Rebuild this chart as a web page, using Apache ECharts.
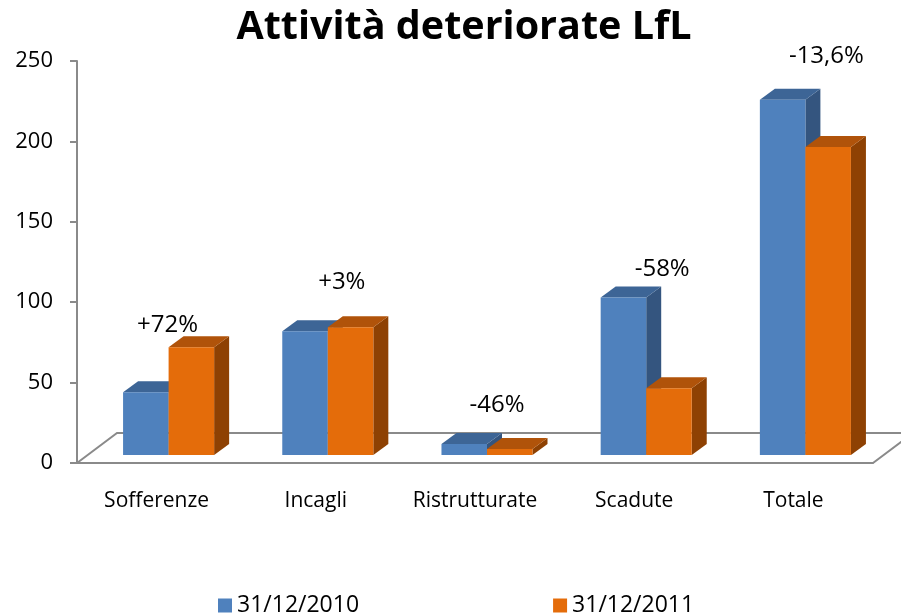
<!DOCTYPE html>
<html>
<head>
<meta charset="utf-8">
<script src="https://cdn.jsdelivr.net/npm/echarts@6/dist/echarts.min.js"></script>
<style>
  html, body { margin: 0; padding: 0; background: #fff; }
  #chart { width: 901px; height: 616px; }
</style>
</head>
<body>
<div id="chart"></div>
<script>
// dati
const categories = ['Sofferenze', 'Incagli', 'Ristrutturate', 'Scadute', 'Totale'];
const values2010 = [39, 77, 6.8, 98, 221];
const values2011 = [67, 79.5, 3.7, 41.5, 191.5];
const changeLabels = ['+72%', '+3%', '-46%', '-58%', '-13,6%'];
const seriesNames = ['31/12/2010', '31/12/2011'];

// layout / stile
const FONT = '"Open Sans", Lato, sans-serif';
const AXIS_COLOR = '#8a8a8a';
const BAR_RATIO = 0.286;        // larghezza barra / categoria
const SHIFT = [12, -8];         // barre spostate a metà profondità
const BAR_DEPTH = [15, -11];    // spessore 3d della barra
const FLOOR_DEPTH = [40, -30];
const LABEL_POS = [[11, 86], [26, 112.6], [22, 36], [28, 120.3], [33, 253]]; // [dx px, valore]
const COLORS = [
    {front: '#4f81bd', top: '#3d6596', side: '#34557f'},
    {front: '#e46c0a', top: '#b0530a', side: '#8e4103'}
];

function bar3d(idx) {
    const c = COLORS[idx];
    return function (params, api) {
        const i = api.value(0);
        const v = api.value(1);
        const base = api.coord([i, 0]);
        const top = api.coord([i, v]);
        const w = api.size([1, 0])[0] * BAR_RATIO;
        const x0 = base[0] + SHIFT[0] + (idx === 0 ? -w : 0);
        const x1 = x0 + w;
        const yb = base[1] + SHIFT[1];
        const yt = top[1] + SHIFT[1];
        const dx = BAR_DEPTH[0], dy = BAR_DEPTH[1];
        return {
            type: 'group',
            children: [
                {type: 'polygon', shape: {points: [[x1, yb], [x1 + dx, yb + dy], [x1 + dx, yt + dy], [x1, yt]]}, style: {fill: c.side}},
                {type: 'polygon', shape: {points: [[x0, yt], [x1, yt], [x1 + dx, yt + dy], [x0 + dx, yt + dy]]}, style: {fill: c.top}},
                {type: 'rect', shape: {x: x0, y: yt, width: w, height: yb - yt}, style: {fill: c.front}}
            ]
        };
    };
}

function floor(params, api) {
    const cs = params.coordSys;
    const x = cs.x, y = cs.y + cs.height;
    const dx = FLOOR_DEPTH[0], dy = FLOOR_DEPTH[1];
    return {
        type: 'polyline',
        shape: {points: [[x, y], [x + dx, y + dy], [x + cs.width + dx, y + dy], [x + cs.width, y]]},
        style: {stroke: AXIS_COLOR, lineWidth: 2, fill: null}
    };
}

function changeText(params, api) {
    const i = api.value(0);
    const p = api.coord([i, LABEL_POS[i][1]]);
    return {
        type: 'text',
        x: p[0] + LABEL_POS[i][0],
        y: p[1],
        style: {
            text: changeLabels[i],
            fill: '#000',
            font: '24px ' + FONT,
            align: 'center',
            verticalAlign: 'middle'
        }
    };
}

const chart = echarts.init(document.getElementById('chart'));
chart.setOption({
    animation: false,
    title: {
        text: 'Attività deteriorate LfL',
        left: 459,
        top: 3,
        textAlign: 'center',
        textStyle: {fontFamily: FONT, fontWeight: 'bold', fontSize: 39.5, color: '#000'}
    },
    legend: {
        left: 218,
        top: 594,
        itemWidth: 14,
        itemHeight: 14,
        itemGap: 194,
        icon: 'rect',
        padding: 0,
        textStyle: {fontFamily: FONT, fontSize: 23, color: '#000'},
        data: seriesNames
    },
    grid: {left: 77, right: 28, top: 61, bottom: 153},
    xAxis: {
        type: 'category',
        data: categories,
        axisLine: {lineStyle: {color: AXIS_COLOR, width: 2}},
        axisTick: {length: 7, lineStyle: {color: AXIS_COLOR, width: 2}},
        axisLabel: {interval: 0, fontFamily: FONT, fontSize: 21, color: '#000', margin: 28}
    },
    yAxis: {
        type: 'value',
        min: 0,
        max: 250,
        interval: 50,
        axisLine: {show: true, lineStyle: {color: AXIS_COLOR, width: 2}},
        axisTick: {show: true, length: 7, lineStyle: {color: AXIS_COLOR, width: 2}},
        splitLine: {show: false},
        axisLabel: {fontFamily: FONT, fontSize: 22, color: '#000', margin: 24}
    },
    series: [
        {type: 'custom', name: 'floor', renderItem: floor, data: [[0]], silent: true, z: 1},
        {
            type: 'custom', name: seriesNames[0], renderItem: bar3d(0),
            itemStyle: {color: COLORS[0].front},
            encode: {x: 0, y: 1},
            data: values2010.map((v, i) => [i, v]), z: 2
        },
        {
            type: 'custom', name: seriesNames[1], renderItem: bar3d(1),
            itemStyle: {color: COLORS[1].front},
            encode: {x: 0, y: 1},
            data: values2011.map((v, i) => [i, v]), z: 3
        },
        {type: 'custom', name: 'variazione', renderItem: changeText, data: categories.map((c, i) => [i, 0]), z: 4, silent: true}
    ]
});
</script>
</body>
</html>
